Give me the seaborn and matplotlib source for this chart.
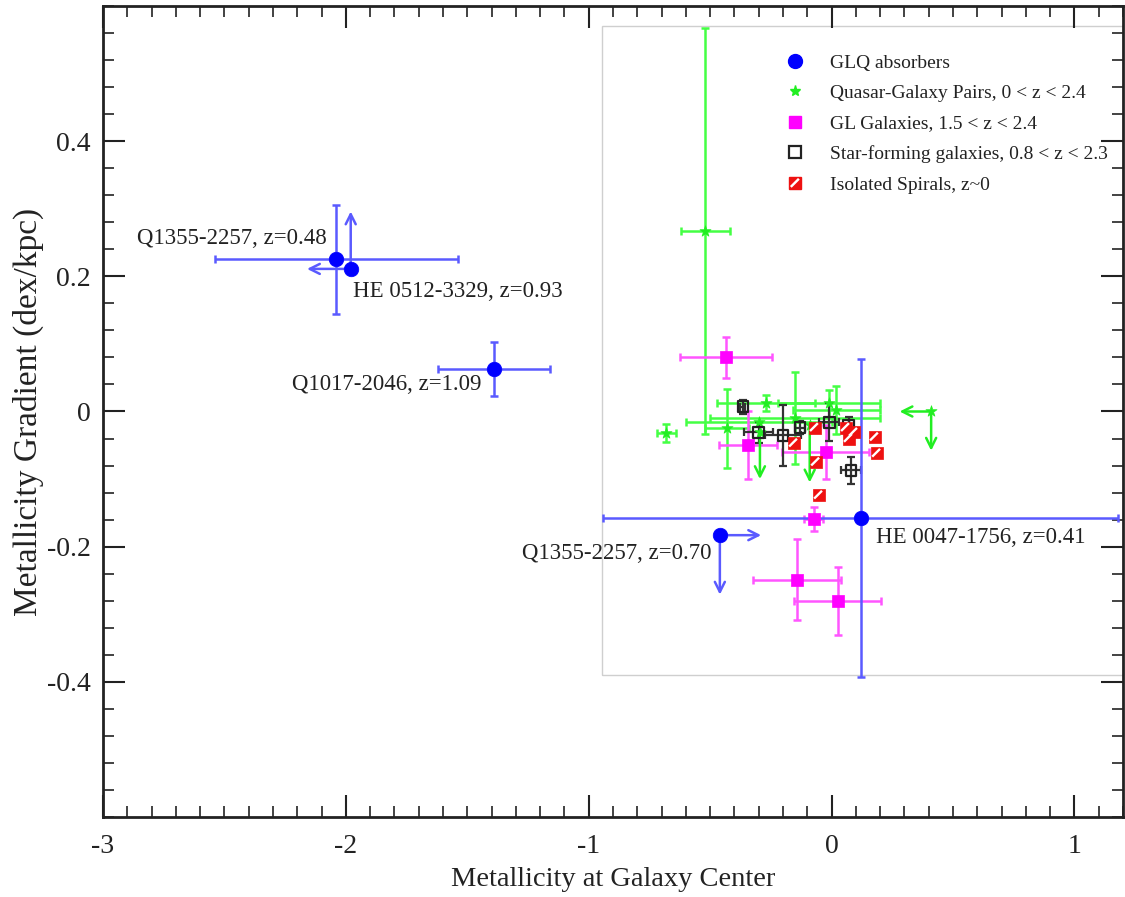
import numpy as np
import pandas as pd
import matplotlib
matplotlib.use("Agg")
import matplotlib.pyplot as plt
from matplotlib.lines import Line2D
from matplotlib.patches import Rectangle
from matplotlib.ticker import MultipleLocator, FuncFormatter
from matplotlib.legend_handler import HandlerTuple
import seaborn as sns

# ---------------------------------------------------------------- data
# GLQ absorbers (NaN error = limit, drawn with arrows below)
glq_x = [-2.04, -1.98, -1.39, -0.46, 0.12]
glq_y = [0.225, 0.211, 0.063, -0.183, -0.158]
glq_xerr = [0.50, np.nan, 0.23, np.nan, 1.06]
glq_yerr = [0.08, np.nan, 0.04, np.nan, 0.235]
glq_labels = ["Q1355-2257, z=0.48", "HE 0512-3329, z=0.93", "Q1017-2046, z=1.09",
              "Q1355-2257, z=0.70", "HE 0047-1756, z=0.41"]
# limits: start point -> limit end
glq_lim_x0 = [-1.98, -1.98, -0.46, -0.46]
glq_lim_y0 = [0.211, 0.211, -0.183, -0.183]
glq_lim_x1 = [-2.16, -1.98, -0.29, -0.46]
glq_lim_y1 = [0.211, 0.296, -0.183, -0.271]

# Quasar-galaxy pairs
qgp_x = [-0.52, -0.68, -0.43, -0.27, -0.15, -0.30, 0.02, -0.01, -0.295, -0.09, 0.41]
qgp_y = [0.267, -0.032, -0.025, 0.012, -0.009, -0.016, 0.002, 0.012, -0.03, -0.02, 0.0]
qgp_xerr = [0.10, 0.04, 0.09, 0.20, 0.35, 0.30, 0.18, 0.21, np.nan, np.nan, np.nan]
qgp_yerr = [0.30, 0.013, 0.058, 0.012, 0.068, 0.0, 0.035, 0.02, np.nan, np.nan, np.nan]
qgp_lim_x0 = [-0.295, -0.09, 0.41, 0.41]
qgp_lim_y0 = [-0.03, -0.02, 0.0, 0.0]
qgp_lim_x1 = [-0.295, -0.09, 0.28, 0.41]
qgp_lim_y1 = [-0.10, -0.105, 0.0, -0.058]

# Gravitationally lensed galaxies
gl_x = [-0.435, -0.345, -0.024, -0.074, -0.143, 0.025]
gl_y = [0.080, -0.050, -0.060, -0.159, -0.249, -0.280]
gl_xerr = [0.19, 0.12, 0.18, 0.04, 0.18, 0.18]
gl_yerr = [0.03, 0.05, 0.04, 0.018, 0.06, 0.05]

# Star-forming galaxies
sfg_x = [-0.365, -0.30, -0.20, -0.13, -0.01, 0.08, 0.07]
sfg_y = [0.007, -0.031, -0.035, -0.024, -0.016, -0.087, -0.02]
sfg_xerr = [0.01, 0.06, 0.075, 0.02, 0.04, 0.04, 0.0]
sfg_yerr = [0.01, 0.016, 0.045, 0.01, 0.028, 0.02, 0.012]

# Isolated spirals
iso_x = [-0.156, -0.07, -0.065, -0.053, 0.058, 0.091, 0.07, 0.177, 0.186]
iso_y = [-0.047, -0.024, -0.075, -0.124, -0.024, -0.031, -0.040, -0.038, -0.062]

legend_labels = ["GLQ absorbers", "Quasar-Galaxy Pairs, 0 < z < 2.4",
                 "GL Galaxies, 1.5 < z < 2.4", "Star-forming galaxies, 0.8 < z < 2.3",
                 "Isolated Spirals, z~0"]

# ---------------------------------------------------------------- style
sns.set_style("ticks")
plt.rcParams["font.family"] = ["Liberation Serif", "DejaVu Serif"]
plt.rcParams["axes.unicode_minus"] = False

BLUE, BLUE_E = "#0000ff", "#5a5aff"
GREEN, GREEN_E = "#22ee22", "#44ff44"
MAG, MAG_E = "#ff00ff", "#ff55ff"
RED = "#ee1111"

fig = plt.figure(figsize=(11.25, 8.97), dpi=100)
W, H = 1125, 897
ax = fig.add_axes([103 / W, 1 - 817 / H, (1123 - 103) / W, (817 - 6) / H])

# faint frame around the low-redshift comparison region
ax.add_patch(Rectangle((-0.945, -0.39), 2.3, 0.96, fill=False,
                       edgecolor="#cfcfcf", lw=1.0, zorder=0.5))


def arrows(x0, y0, x1, y1, color, lw):
    for a, b, c, d in zip(x0, y0, x1, y1):
        ax.annotate("", xy=(c, d), xytext=(a, b),
                    arrowprops=dict(arrowstyle="->", color=color, lw=lw,
                                    mutation_scale=18, shrinkA=0, shrinkB=0),
                    zorder=3)


# error bars
ax.errorbar(qgp_x, qgp_y, xerr=qgp_xerr, yerr=qgp_yerr, fmt="none",
            ecolor=GREEN_E, elinewidth=1.8, capsize=3, capthick=1.8, zorder=2)
arrows(qgp_lim_x0, qgp_lim_y0, qgp_lim_x1, qgp_lim_y1, GREEN, 1.8)

ax.errorbar(gl_x, gl_y, xerr=gl_xerr, yerr=gl_yerr, fmt="none",
            ecolor=MAG_E, elinewidth=1.8, capsize=3, capthick=1.8, zorder=2.2)

ax.errorbar(sfg_x, sfg_y, xerr=sfg_xerr, yerr=sfg_yerr, fmt="none",
            ecolor="#333333", elinewidth=1.6, capsize=3, capthick=1.6, zorder=2.4)

ax.errorbar(glq_x, glq_y, xerr=glq_xerr, yerr=glq_yerr, fmt="none",
            ecolor=BLUE_E, elinewidth=1.8, capsize=3, capthick=1.8, zorder=2.6)
arrows(glq_lim_x0, glq_lim_y0, glq_lim_x1, glq_lim_y1, BLUE_E, 1.8)

# markers
sns.scatterplot(x=qgp_x, y=qgp_y, ax=ax, marker="*", s=70, color=GREEN,
                edgecolor=GREEN, linewidth=0.5, zorder=3, legend=False)
sns.scatterplot(x=gl_x, y=gl_y, ax=ax, marker="s", s=75, color=MAG,
                edgecolor=MAG, linewidth=0.5, zorder=3.2, legend=False)
sns.scatterplot(x=sfg_x, y=sfg_y, ax=ax, marker="s", s=60, facecolor="none",
                edgecolor="#222222", linewidth=1.6, zorder=3.4, legend=False)
stripe = [(-0.55, -0.25), (0.25, 0.55), (0.42, 0.38), (-0.38, -0.42)]
sns.scatterplot(x=iso_x, y=iso_y, ax=ax, marker="s", s=80, color=RED,
                edgecolor=RED, linewidth=0.5, zorder=3.6, legend=False)
sns.scatterplot(x=iso_x, y=iso_y, ax=ax, marker=stripe, s=60, color="white",
                edgecolor="none", linewidth=0, zorder=3.7, legend=False)
sns.scatterplot(x=glq_x, y=glq_y, ax=ax, marker="o", s=110, color=BLUE,
                edgecolor=BLUE, linewidth=0.5, zorder=4, legend=False)

# object names
label_offsets = [(-7, 15), (2, -16), (-9, -11), (-6, -13), (11, -14)]
label_ha = ["right", "left", "right", "right", "left"]
for xv, yv, txt, off, ha in zip(glq_x, glq_y, glq_labels, label_offsets, label_ha):
    ax.annotate(txt, (xv, yv), xytext=off, textcoords="offset points",
                ha=ha, va="center", fontsize=16.5, color="#222222", zorder=5)

# axes
ax.set_xlim(-3, 1.2)
ax.set_ylim(-0.6, 0.6)
ax.xaxis.set_major_locator(MultipleLocator(1))
ax.xaxis.set_minor_locator(MultipleLocator(0.1))
ax.set_yticks([-0.4, -0.2, 0.0, 0.2, 0.4])
ax.yaxis.set_minor_locator(MultipleLocator(0.04))
fmt = FuncFormatter(lambda v, p: "0" if abs(v) < 1e-9 else f"{v:g}")
ax.xaxis.set_major_formatter(fmt)
ax.yaxis.set_major_formatter(fmt)
ax.tick_params(which="both", direction="in", top=True, right=True,
               color="#222222", labelcolor="#222222")
ax.tick_params(which="major", length=16, width=1.5, labelsize=20)
ax.tick_params(which="minor", length=8, width=1.2)
ax.tick_params(axis="x", which="major", pad=12)
ax.tick_params(axis="y", which="major", pad=9)
for sp in ax.spines.values():
    sp.set_linewidth(2)
    sp.set_color("#222222")

ax.set_xlabel("Metallicity at Galaxy Center", fontsize=20.5, color="#222222", labelpad=6)
ax.set_ylabel("Metallicity Gradient (dex/kpc)", fontsize=24, color="#222222", labelpad=2)

# legend
stripe_handle = Line2D([], [], ls="none", marker=stripe, ms=8, mfc="white", mec="none")
handles = [
    Line2D([], [], ls="none", marker="o", ms=10, color=BLUE),
    Line2D([], [], ls="none", marker="*", ms=8, color=GREEN),
    Line2D([], [], ls="none", marker="s", ms=9, color=MAG),
    Line2D([], [], ls="none", marker="s", ms=8, mfc="none", mec="#222222", mew=1.6),
    (Line2D([], [], ls="none", marker="s", ms=9, color=RED), stripe_handle),
]
leg = ax.legend(handles, legend_labels, loc="upper left",
                bbox_to_anchor=((785 - 103) / 1020, (817 - 54) / 811),
                frameon=False, fontsize=14, handlelength=1.0, handletextpad=1.3,
                labelspacing=0.66, borderpad=0, borderaxespad=0,
                handler_map={tuple: HandlerTuple(ndivide=1, pad=0)})
for t in leg.get_texts():
    t.set_color("#222222")

fig.savefig("out.png", dpi=100)
